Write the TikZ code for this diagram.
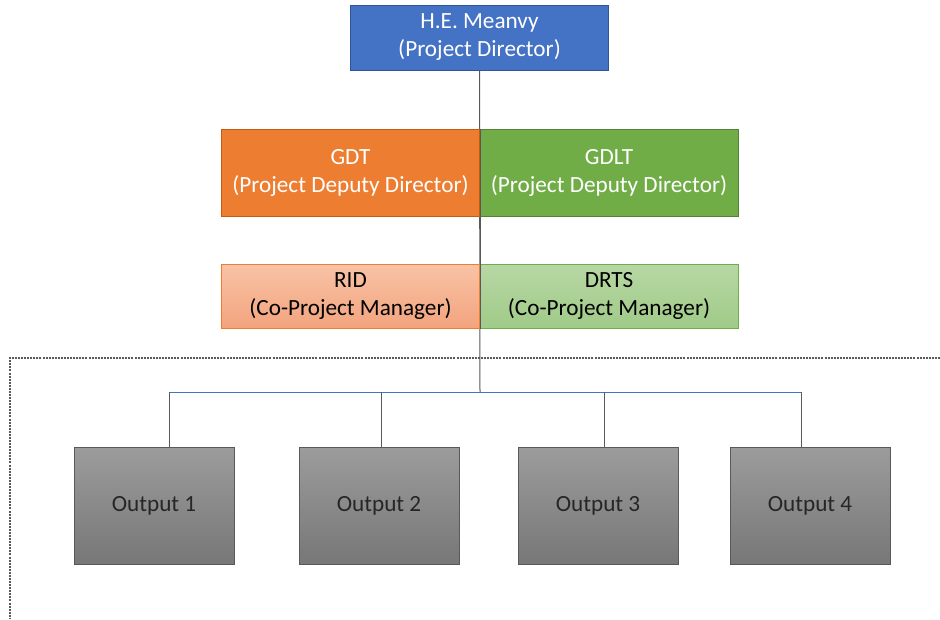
\documentclass[tikz,border=0pt]{standalone}
\usepackage{fontspec}
\setmainfont{Carlito}
\definecolor{pdblue}{HTML}{4472C4}
\definecolor{pdblueb}{HTML}{2F5597}
\definecolor{pdorange}{HTML}{ED7D31}
\definecolor{pdorangeb}{HTML}{C55A11}
\definecolor{pdgreen}{HTML}{70AD47}
\definecolor{pdgreenb}{HTML}{548235}
\definecolor{lotop}{HTML}{F8C3A6}
\definecolor{lobot}{HTML}{F3A37E}
\definecolor{lgtop}{HTML}{B7D7A4}
\definecolor{lgbot}{HTML}{A0CB88}
\definecolor{gtop}{HTML}{9C9C9C}
\definecolor{gbot}{HTML}{777777}
\definecolor{linegray}{HTML}{595959}
\definecolor{hblue}{HTML}{4472C4}
\tikzset{
  box/.style={rectangle, align=center, inner sep=0pt, font=\fontsize{17.4}{21}\selectfont, line width=0.75pt},
  topbox/.style={box, fill=pdblue, draw=pdblueb, text=white, minimum width=194pt, minimum height=48.75pt},
  deputy/.style={box, text=white, minimum width=193.5pt, minimum height=65.25pt},
  comgr/.style={box, text=black, minimum width=193.5pt, minimum height=48pt},
  outbox/.style={box, top color=gtop, bottom color=gbot, draw=linegray, text=black!85, minimum width=120pt, minimum height=87.75pt},
  conn/.style={draw=linegray, line width=0.75pt},
  hconn/.style={draw=hblue, line width=0.75pt}
}
\begin{document}
\begin{tikzpicture}[x=0.75pt,y=-0.75pt]
\useasboundingbox (0,0) rectangle (940,619);
\fill[white] (0,0) rectangle (940,619);
% connectors behind boxes
\coordinate (hub) at (480,392);
\coordinate (c1) at (169,392);
\coordinate (c2) at (381,392);
\coordinate (c3) at (604,392);
\coordinate (c4) at (801,392);
\node[topbox] (top) at (479.5,37.5) {H.E. Meanvy\\(Project Director)};
\draw[conn] (top.south) -- (hub);
% dashed frame
\coordinate (dA) at (940,358);
\coordinate (dB) at (10,358);
\coordinate (dC) at (10,619);
\draw[linegray, line width=0.9pt, dash pattern=on 1.5pt off 0.8pt] (dA) -- (dB) -- (dC);
\node[deputy, fill=pdorange, draw=pdorangeb] (gdt) at (350.5,172.5) {GDT\\(Project Deputy Director)};
\node[deputy, fill=pdgreen, draw=pdgreenb] (gdlt) at (609,172.5) {GDLT\\(Project Deputy Director)};
\node[comgr, top color=lotop, bottom color=lobot, draw=pdorange] (rid) at (350.5,296) {RID\\(Co-Project Manager)};
\node[comgr, top color=lgtop, bottom color=lgbot, draw=pdgreen] (drts) at (609,296) {DRTS\\(Co-Project Manager)};
\draw[conn] (gdt.north east) -- (rid.south east);
\draw[hconn] (c1) -- (c4);
\node[outbox] (o1) at (154,505.5) {Output 1};
\node[outbox] (o2) at (379,505.5) {Output 2};
\node[outbox] (o3) at (598,505.5) {Output 3};
\node[outbox] (o4) at (810,505.5) {Output 4};
\draw[conn] (c1) -- (c1 |- o1.north);
\draw[conn] (c2) -- (c2 |- o2.north);
\draw[conn] (c3) -- (c3 |- o3.north);
\draw[conn] (c4) -- (c4 |- o4.north);
\end{tikzpicture}
\end{document}
